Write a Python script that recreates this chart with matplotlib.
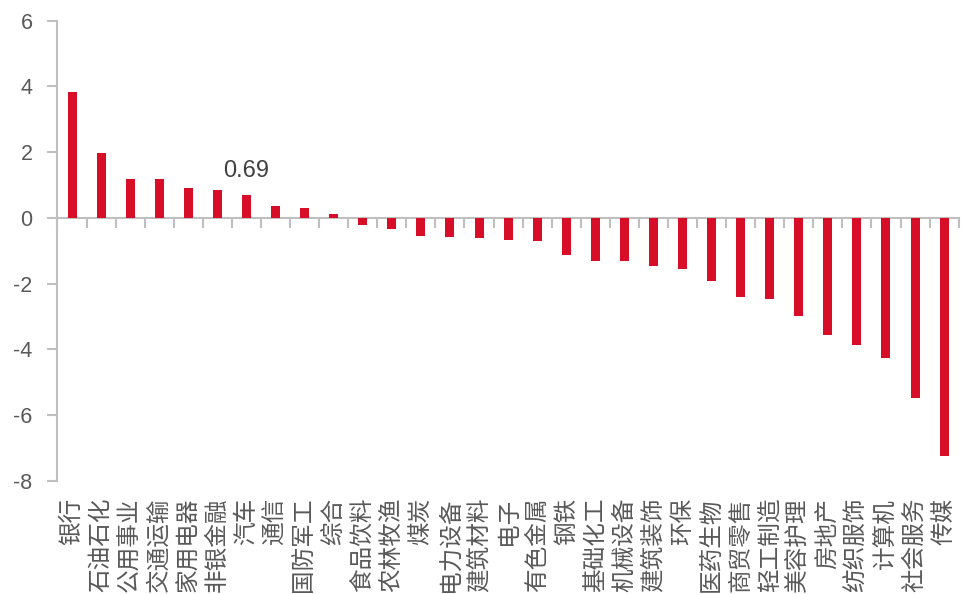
import matplotlib
matplotlib.use("Agg")
import matplotlib.pyplot as plt
import numpy as np

plt.rcParams['font.family'] = ['Noto Sans CJK SC', 'DejaVu Sans']

categories = ["银行", "石油石化", "公用事业", "交通运输", "家用电器", "非银金融", "汽车", "通信",
              "国防军工", "综合", "食品饮料", "农林牧渔", "煤炭", "电力设备", "建筑材料", "电子",
              "有色金属", "钢铁", "基础化工", "机械设备", "建筑装饰", "环保", "医药生物", "商贸零售",
              "轻工制造", "美容护理", "房地产", "纺织服饰", "计算机", "社会服务", "传媒"]
values = [3.84, 1.98, 1.19, 1.17, 0.92, 0.84, 0.69, 0.37,
          0.31, 0.11, -0.21, -0.33, -0.55, -0.58, -0.60, -0.67,
          -0.69, -1.12, -1.31, -1.32, -1.47, -1.55, -1.93, -2.40,
          -2.47, -2.98, -3.56, -3.87, -4.27, -5.46, -7.25]
yticks = [-8, -6, -4, -2, 0, 2, 4, 6]
annot_label = "0.69"
annot_index = 6

bar_color = "#D80D27"
axis_color = "#BFBFBF"
text_color = "#595959"

fig = plt.figure(figsize=(9.63, 5.94), dpi=100)
ax = fig.add_axes([0.0597, 0.1902, 0.9358, 0.775])

x = np.arange(len(categories))
ax.bar(x, values, width=0.31, color=bar_color, zorder=3)

ax.set_xlim(-0.5, len(categories) - 0.5)
ax.set_ylim(-8, 6)
ax.set_yticks(yticks)
ax.set_yticklabels([str(v) for v in yticks], fontsize=15.5, color=text_color, family='Liberation Sans')

for s in ['top', 'right']:
    ax.spines[s].set_visible(False)
ax.spines['left'].set_color(axis_color)
ax.spines['left'].set_linewidth(1.5)
ax.spines['bottom'].set_position(('data', 0))
ax.spines['bottom'].set_color(axis_color)
ax.spines['bottom'].set_linewidth(1.5)
ax.spines['bottom'].set_zorder(2)

ax.tick_params(axis='y', length=7, width=1.5, color=axis_color, pad=11)
ax.set_xticks(x)
ax.set_xticklabels([])
ax.tick_params(axis='x', which='major', length=0)
ax.set_xticks(np.arange(len(categories) + 1) - 0.5, minor=True)
ax.tick_params(axis='x', which='minor', length=7, width=1.5, color=axis_color, direction='out')

sec = ax.secondary_xaxis(0)
sec.set_xticks(x)
sec.set_xticklabels(categories, rotation=90, fontsize=17, color=text_color, va='top', ha='center')
sec.tick_params(axis='x', length=0, pad=12)
sec.spines['bottom'].set_visible(False)

ax.text(annot_index, values[annot_index] + 0.4, annot_label, ha='center', va='bottom',
        fontsize=17, color="#404040", family='Liberation Sans')

fig.savefig("out.png", dpi=100)
